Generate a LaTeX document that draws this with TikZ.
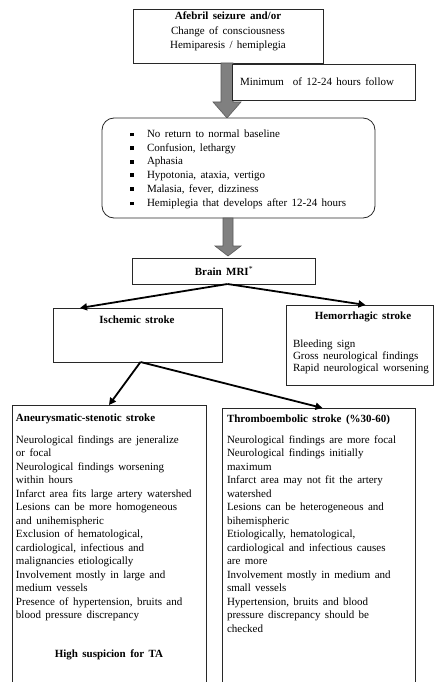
\documentclass[tikz,border=0pt]{standalone}
\usepackage{fontspec}
\setmainfont{Liberation Serif}
\usetikzlibrary{arrows.meta,calc}
\newcommand\wsp{\spaceskip=4.4pt plus 1pt minus 0.5pt\relax}
\newcommand\fs{\fontsize{11}{13.5}\selectfont\wsp}
\newcommand\fsh{\fontsize{11}{12}\selectfont\wsp}
\newcommand\fsa{\fontsize{11}{14.5}\selectfont\wsp}
\newcommand\fsb{\fontsize{11}{13.6}\selectfont\wsp}
\newcommand\bul{\makebox[17pt][l]{\raisebox{1.2pt}{\rule{3.8pt}{3.8pt}}}}
\definecolor{blkfill}{RGB}{128,128,128}
\definecolor{blkline}{RGB}{90,90,90}
\definecolor{boxline}{RGB}{40,40,40}
\begin{document}
\begin{tikzpicture}[x=1pt,y=-1pt,
  box/.style={draw=boxline,line width=0.8pt,inner sep=0pt,outer sep=0pt,anchor=north west,fill=white},
  txt/.style={inner sep=0pt,outer sep=0pt,align=left,anchor=north west,text=black},
  ctxt/.style={inner sep=0pt,outer sep=0pt,align=center,text=black,font=\fs},
  blockarrow/.style={fill=blkfill,draw=blkline,line width=0.6pt},
  conn/.style={line width=1.8pt,draw=black,-{Triangle[length=7pt,width=7pt]}}]
\clip (0,0) rectangle (434,682);
\fill[white] (0,0) rectangle (434,682);

% top box
\node[box,minimum width=190pt,minimum height=54pt] (b1) at (133,9) {};
\node[ctxt,font=\fsa,anchor=north] (t1) at (228,12) {\textbf{Afebril seizure and/or}\\Change of consciousness\\Hemiparesis / hemiplegia};

% block arrow 1
\path[blockarrow] (221,63) -- (233,63) -- (233,102) -- (241,102) -- (227,118) -- (213,102) -- (221,102) -- cycle;

% label box
\node[box,minimum width=183pt,minimum height=36pt] (lab) at (232,64) {};
\node[txt,font=\fs,anchor=west] (tl) at (240,82) {Minimum\ \ of 12-24 hours follow};

% rounded box
\node[box,rounded corners=12pt,minimum width=273pt,minimum height=100pt] (b2) at (102,118) {};
\node[txt,font=\fsb] (t2) at (130,130) {\bul No return to normal baseline\\
\bul Confusion, lethargy\\
\bul Aphasia\\
\bul Hypotonia, ataxia, vertigo\\
\bul Malasia, fever, dizziness\\[1pt]
\bul Hemiplegia that develops after 12-24 hours};

% block arrow 2
\path[blockarrow] (223,218) -- (233,218) -- (233,246) -- (241,246) -- (228,256) -- (215,246) -- (223,246) -- cycle;

% Brain MRI
\node[box,minimum width=183pt,minimum height=26pt] (mri) at (132,258) {};
\node[ctxt] (tmri) at (224,271) {\textbf{Brain MRI}\textsuperscript{*}};

% Ischemic
\node[box,minimum width=169pt,minimum height=54pt] (isch) at (53,308) {};
\node[ctxt] (tisch) at (137,320) {\textbf{Ischemic stroke}};

% Hemorrhagic
\node[box,minimum width=147pt,minimum height=80pt] (hem) at (286,305) {};
\node[ctxt] (themt) at (363,317) {\textbf{Hemorrhagic stroke}};
\node[txt,font=\fsh] (themb) at (293,339.5) {Bleeding sign\\Gross neurological findings\\Rapid neurological worsening};

% Aneurysmatic
\node[box,minimum width=194pt,minimum height=290pt] (aneu) at (12,405) {};
\node[txt,font=\fs] (taneut) at (16,413.5) {\textbf{Aneurysmatic-stenotic stroke}};
\node[txt,font=\fs] (taneub) at (16,435.5) {Neurological findings are jeneralize\\
or focal\\
Neurological findings worsening\\
within hours\\
Infarct area fits large artery watershed\\
Lesions can be more homogeneous\\
and unihemispheric\\
Exclusion of hematological,\\
cardiological, infectious and\\
malignancies etiologically\\
Involvement mostly in large and\\
medium vessels\\
Presence of hypertension, bruits and\\
blood pressure discrepancy};
\node[ctxt] (tta) at (109,655) {\textbf{High suspicion for TA}};

% Thromboembolic
\node[box,minimum width=193pt,minimum height=290pt] (thr) at (222,408) {};
\node[txt,font=\fs] (tthrt) at (227,414.5) {\textbf{Thromboembolic stroke (\%30-60)}};
\node[txt,font=\fs] (tthrb) at (227,435.5) {Neurological findings are more focal\\
Neurological findings initially\\
maximum\\
Infarct area may not fit the artery\\
watershed\\
Lesions can be heterogeneous and\\
bihemispheric\\
Etiologically, hematological,\\
cardiological and infectious causes\\
are more\\
Involvement mostly in medium and\\
small vessels\\
Hypertension, bruits and blood\\
pressure discrepancy should be\\
checked};

% connectors
\coordinate (mrib) at ($(mri.south)+(4,0)$);
\coordinate (ischt) at ($(isch.north west)+(27,0)$);
\coordinate (hemt) at ($(hem.north)+(6,0)$);
\draw[conn] (mrib) -- (ischt);
\draw[conn] (mrib) -- (hemt);
\coordinate (ischb) at ($(isch.south)+(3,0)$);
\draw[conn] (ischb) -- (aneu.north);
\draw[conn] (ischb) -- ($(thr.north)+(4,0)$);
\end{tikzpicture}
\end{document}
